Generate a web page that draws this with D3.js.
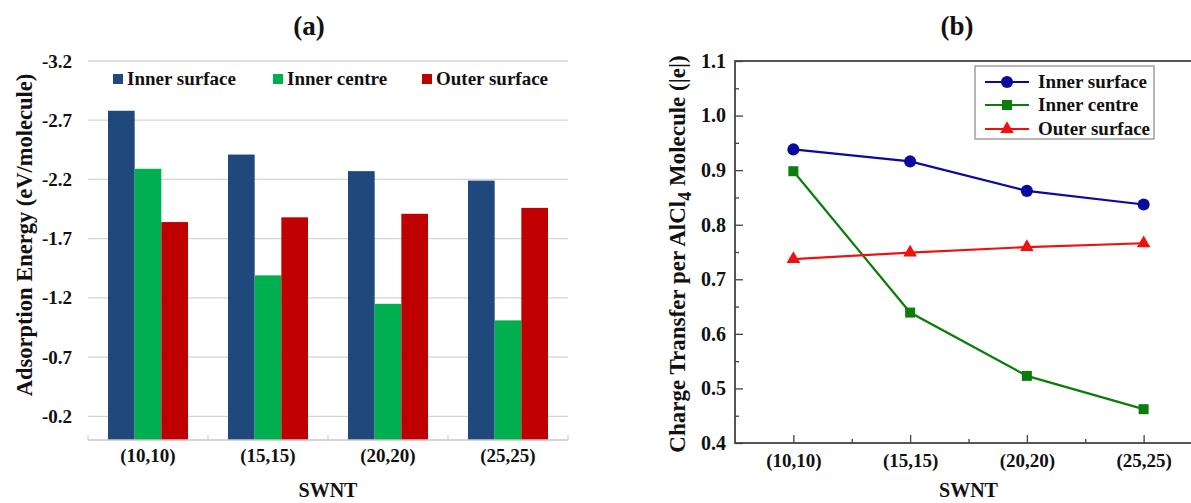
<!DOCTYPE html>
<html>
<head>
<meta charset="utf-8">
<script src="https://cdn.jsdelivr.net/npm/d3@7"></script>
<style>
  body { margin: 0; background: #fff; }
  svg { display: block; font-family: "Liberation Serif", "Times New Roman", serif; font-weight: bold; }
</style>
</head>
<body>
<svg id="chart" width="1191" height="503"></svg>
<script>
// data
var tubes = ['(10,10)', '(15,15)', '(20,20)', '(25,25)'];
var seriesNames = ['Inner surface', 'Inner centre', 'Outer surface'];

// (a) adsorption energy, eV/molecule
var energyInnerSurface = [-2.78, -2.41, -2.27, -2.19];
var energyInnerCentre = [-2.29, -1.39, -1.15, -1.01];
var energyOuterSurface = [-1.84, -1.88, -1.91, -1.96];
var energyTicks = [-3.2, -2.7, -2.2, -1.7, -1.2, -0.7, -0.2];

// (b) charge transfer per AlCl4, |e|
var chargeInnerSurface = [0.938, 0.916, 0.862, 0.837];
var chargeInnerCentre = [0.898, 0.639, 0.523, 0.462];
var chargeOuterSurface = [0.737, 0.749, 0.759, 0.766];
var chargeTicks = [0.4, 0.5, 0.6, 0.7, 0.8, 0.9, 1.0, 1.1];

var svg = d3.select('#chart');
var fmt1 = function (d) { return d.toFixed(1); };   // plain hyphen, like the original

// strip d3's default axis font so the serif from the svg is used
function styleAxis(g, size) {
  g.attr('font-family', null).attr('font-size', size);
  g.select('.domain').remove();
  g.selectAll('line').attr('stroke', '#444').attr('stroke-width', 1.3);
  g.selectAll('text').attr('fill', '#111');
}

// ---------- panel (a): grouped bars ----------
var barColors = ['#1f497d', '#00b050', '#c00000'];
var energy = [energyInnerSurface, energyInnerCentre, energyOuterSurface];

var a = { left: 88, right: 568, top: 61, bottom: 440 };

var xa = d3.scaleBand().domain(tubes).range([a.left, a.right])
  .paddingInner(1 / 3).paddingOuter(1 / 6);
var xa1 = d3.scaleBand().domain(seriesNames).range([0, xa.bandwidth()]);
var ya = d3.scaleLinear().domain([0, -3.2]).range([a.bottom, a.top]);

var ga = svg.append('g');

// gridlines
ga.append('g').selectAll('line').data(energyTicks).join('line')
  .attr('x1', a.left).attr('x2', a.right)
  .attr('y1', function (d) { return ya(d); }).attr('y2', function (d) { return ya(d); })
  .attr('stroke', '#d4d4d4').attr('stroke-width', 1.3);

// tick labels
var yAxisA = d3.axisLeft(ya).tickValues(energyTicks).tickSize(0).tickPadding(16).tickFormat(fmt1);
ga.append('g').attr('transform', 'translate(' + a.left + ',0)').call(yAxisA)
  .call(styleAxis, 19);

// bars
seriesNames.forEach(function (name, si) {
  ga.append('g').selectAll('rect').data(energy[si]).join('rect')
    .attr('x', function (d, i) { return xa(tubes[i]) + xa1(name); })
    .attr('width', xa1.bandwidth())
    .attr('y', function (d) { return ya(d); })
    .attr('height', function (d) { return ya(0) - ya(d); })
    .attr('fill', barColors[si]);
});

// category axis
ga.append('line').attr('x1', a.left).attr('x2', a.right)
  .attr('y1', ya(0)).attr('y2', ya(0)).attr('stroke', '#c8c8c8').attr('stroke-width', 1.3);
var sepTicks = d3.range(tubes.length + 1).map(function (i) { return a.left + i * xa.step(); });
ga.append('g').selectAll('line').data(sepTicks).join('line')
  .attr('x1', function (d) { return d; }).attr('x2', function (d) { return d; })
  .attr('y1', ya(0) - 5).attr('y2', ya(0)).attr('stroke', '#c8c8c8');

ga.append('g').selectAll('text').data(tubes).join('text')
  .attr('x', function (d) { return xa(d) + xa.bandwidth() / 2; })
  .attr('y', 462).attr('text-anchor', 'middle').attr('font-size', 19).attr('fill', '#111')
  .text(function (d) { return d; });

// legend
var legA = [113, 273, 422];
seriesNames.forEach(function (name, si) {
  ga.append('rect').attr('x', legA[si]).attr('y', 74).attr('width', 10).attr('height', 10)
    .attr('fill', barColors[si]);
  ga.append('text').attr('x', legA[si] + 14).attr('y', 85).attr('font-size', 19)
    .attr('fill', '#111').text(name);
});

ga.append('text').attr('x', (a.left + a.right) / 2).attr('y', 497).attr('text-anchor', 'middle')
  .attr('font-size', 20).attr('fill', '#111').text('SWNT');
ga.append('text').attr('transform', 'translate(32,235) rotate(-90)').attr('text-anchor', 'middle')
  .attr('font-size', 22.5).attr('fill', '#111').text('Adsorption Energy (eV/molecule)');
ga.append('text').attr('x', 309).attr('y', 35).attr('text-anchor', 'middle')
  .attr('font-size', 27).attr('fill', '#111').text('(a)');

// ---------- panel (b): line chart ----------
var lineColors = ['#0a0a9e', '#0b7d0b', '#ee1111'];
var charge = [chargeInnerSurface, chargeInnerCentre, chargeOuterSurface];
var markers = [d3.symbolCircle, d3.symbolSquare, d3.symbolTriangle];
var markerSizes = [115, 100, 80];

var b = { left: 735, right: 1202, top: 61, bottom: 443 };
var xb = d3.scaleLinear().domain([-0.5, tubes.length - 0.5]).range([b.left, b.right]);
var yb = d3.scaleLinear().domain([0.4, 1.1]).range([b.bottom, b.top]);

var gb = svg.append('g');

// frame
gb.append('rect').attr('x', b.left).attr('y', b.top)
  .attr('width', b.right - b.left).attr('height', b.bottom - b.top)
  .attr('fill', 'none').attr('stroke', '#444').attr('stroke-width', 1.8);

// left axis with inward ticks
var yAxisB = d3.axisLeft(yb).tickValues(chargeTicks).tickSizeInner(-8).tickSizeOuter(0)
  .tickPadding(9).tickFormat(fmt1);
gb.append('g').attr('transform', 'translate(' + b.left + ',0)').call(yAxisB).call(styleAxis, 20);
var minorY = chargeTicks.slice(0, -1).map(function (d) { return d + 0.05; });
gb.append('g').attr('transform', 'translate(' + b.left + ',0)')
  .call(d3.axisLeft(yb).tickValues(minorY).tickSize(-4).tickFormat(''))
  .call(styleAxis, 10);

// bottom axis with inward ticks
var xAxisB = d3.axisBottom(xb).tickValues(d3.range(tubes.length)).tickSizeInner(-8).tickSizeOuter(0)
  .tickPadding(11).tickFormat(function (i) { return tubes[i]; });
gb.append('g').attr('transform', 'translate(0,' + b.bottom + ')').call(xAxisB).call(styleAxis, 19);
gb.append('g').attr('transform', 'translate(0,' + b.bottom + ')')
  .call(d3.axisBottom(xb).tickValues([0.5, 1.5, 2.5]).tickSize(-4).tickFormat(''))
  .call(styleAxis, 10);

// lines + markers
var line = d3.line().x(function (d, i) { return xb(i); }).y(function (d) { return yb(d); });
seriesNames.forEach(function (name, si) {
  gb.append('path').datum(charge[si]).attr('d', line)
    .attr('fill', 'none').attr('stroke', lineColors[si]).attr('stroke-width', 2.2);
  gb.append('g').selectAll('path').data(charge[si]).join('path')
    .attr('transform', function (d, i) { return 'translate(' + xb(i) + ',' + yb(d) + ')'; })
    .attr('d', d3.symbol().type(markers[si]).size(markerSizes[si]))
    .attr('fill', lineColors[si]);
});

// legend
gb.append('rect').attr('x', 975).attr('y', 66).attr('width', 179).attr('height', 73)
  .attr('fill', '#fff').attr('stroke', '#888').attr('stroke-width', 1.2);
var legRows = [82, 105, 129];
seriesNames.forEach(function (name, si) {
  gb.append('line').attr('x1', 985).attr('x2', 1029).attr('y1', legRows[si]).attr('y2', legRows[si])
    .attr('stroke', lineColors[si]).attr('stroke-width', 2.2);
  gb.append('path').attr('transform', 'translate(1007,' + legRows[si] + ')')
    .attr('d', d3.symbol().type(markers[si]).size(markerSizes[si]))
    .attr('fill', lineColors[si]);
  gb.append('text').attr('x', 1038).attr('y', legRows[si] + 6).attr('font-size', 19)
    .attr('fill', '#111').text(name);
});

gb.append('text').attr('x', (b.left + b.right) / 2).attr('y', 497).attr('text-anchor', 'middle')
  .attr('font-size', 20).attr('fill', '#111').text('SWNT');
var yt = gb.append('text').attr('transform', 'translate(685,254) rotate(-90)').attr('text-anchor', 'middle')
  .attr('font-size', 23).attr('fill', '#111');
yt.append('tspan').text('Charge Transfer per AlCl');
yt.append('tspan').attr('dy', 6).attr('font-size', 18).text('4');
yt.append('tspan').attr('dy', -6).text(' Molecule (|e|)');
gb.append('text').attr('x', 957).attr('y', 35).attr('text-anchor', 'middle')
  .attr('font-size', 27).attr('fill', '#111').text('(b)');
</script>
</body>
</html>
